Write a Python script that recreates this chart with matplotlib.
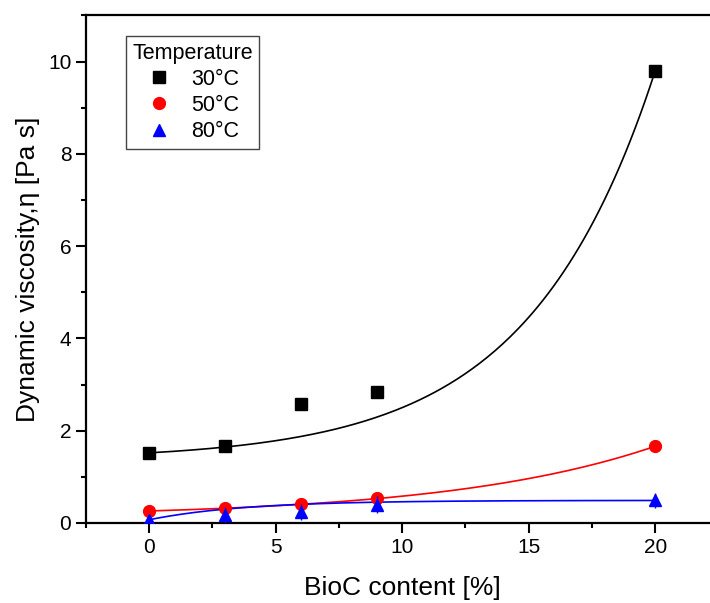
import numpy as np
import matplotlib
matplotlib.use("Agg")
import matplotlib.pyplot as plt
from matplotlib.ticker import MultipleLocator

plt.rcParams['font.family'] = ['Liberation Sans', 'DejaVu Sans']

# measured points
bioc = [0, 3, 6, 9, 20]
visc_30 = [1.52, 1.67, 2.58, 2.83, 9.79]
visc_50 = [0.25, 0.32, 0.42, 0.55, 1.66]
visc_80 = [0.07, 0.17, 0.24, 0.40, 0.49]
err_80 = [0.0, 0.17, 0.17, 0.18, 0.16]

# exponential fit parameters: y0, A, t
fit_30 = [1.368, 0.152, 4.98]     # y0 + A*exp(x/t)
fit_50 = [0.125, 0.135, 8.22]     # y0 + A*exp(x/t)
fit_80 = [0.49, 0.42, 3.78]       # y0 - A*exp(-x/t)

fig = plt.figure(figsize=(7.10, 6.03), dpi=100)
ax = fig.add_axes([0.121, 0.1327, 0.891, 0.8418])

xs = np.linspace(0, 20, 200)
ax.plot(xs, fit_30[0] + fit_30[1] * np.exp(xs / fit_30[2]), color='black', lw=1.2, zorder=2)
ax.plot(xs, fit_50[0] + fit_50[1] * np.exp(xs / fit_50[2]), color='red', lw=1.2, zorder=2)
ax.plot(xs, fit_80[0] - fit_80[1] * np.exp(-xs / fit_80[2]), color='blue', lw=1.2, zorder=2)

ax.plot(bioc, visc_30, 's', color='black', ms=8, label='30°C', zorder=3)
ax.plot(bioc, visc_50, 'o', color='red', ms=8.5, label='50°C', zorder=3)
ax.errorbar(bioc, visc_80, yerr=err_80, fmt='none', ecolor='blue', elinewidth=1,
            capsize=0, zorder=3)
ax.plot(bioc, visc_80, '^', color='blue', ms=9, label='80°C', zorder=3)

ax.set_xlim(-2.5, 22.5)
ax.set_ylim(0, 11)
ax.xaxis.set_major_locator(MultipleLocator(5))
ax.xaxis.set_minor_locator(MultipleLocator(2.5))
ax.yaxis.set_major_locator(MultipleLocator(2))
ax.yaxis.set_minor_locator(MultipleLocator(1))
ax.tick_params(which='both', direction='out', width=1.5, labelsize=15, top=False, right=False)
ax.tick_params(which='major', length=7)
ax.tick_params(which='minor', length=3.6)
for s in ax.spines.values():
    s.set_linewidth(1.6)

ax.set_xlabel('BioC content [%]', fontsize=19, labelpad=14)
ax.set_ylabel('Dynamic viscosity,η [Pa s]', fontsize=19, labelpad=6)

leg = ax.legend(title='Temperature', loc='upper left', bbox_to_anchor=(0.063, 0.959),
                borderaxespad=0, fontsize=15.5, title_fontsize=15.5, fancybox=False,
                edgecolor='#444444', framealpha=1, handletextpad=0.9, borderpad=0.3,
                labelspacing=0.24, handlelength=1.2)
leg.get_frame().set_linewidth(1.0)

fig.savefig('out.png', dpi=100)
